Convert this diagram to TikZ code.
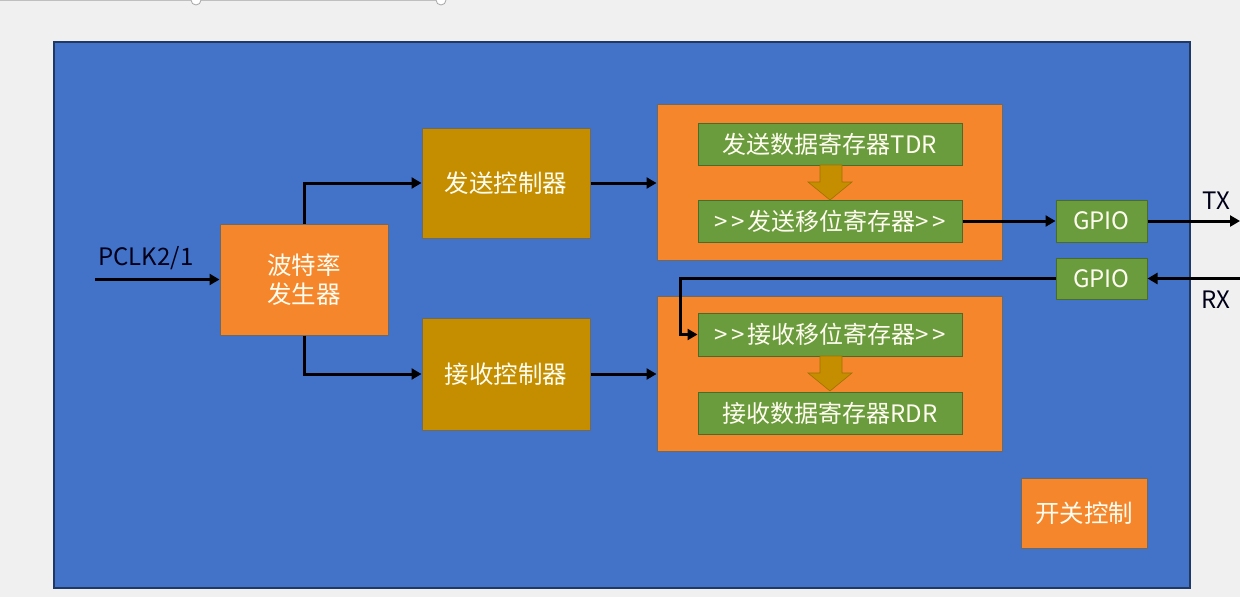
\documentclass[tikz,border=0pt]{standalone}
\usepackage{fontspec}
\setmainfont{Noto Sans CJK SC}
\usetikzlibrary{arrows.meta}
\definecolor{bgc}{HTML}{F0F0F0}
\definecolor{bluec}{HTML}{4373C9}
\definecolor{navyc}{HTML}{1F3864}
\definecolor{orangec}{HTML}{F5862C}
\definecolor{goldc}{HTML}{C48E00}
\definecolor{greenc}{HTML}{6A9B3C}
\definecolor{edgec}{HTML}{6E6A60}
\definecolor{txtc}{HTML}{FFFDF0}
\newcommand{\shiftmark}{>\kern4pt>}
\tikzset{
  box/.style={draw=edgec, line width=1pt, inner sep=0pt, align=center, text=txtc,
    font=\fontsize{24.5}{29}\selectfont},
  obox/.style={box, fill=orangec},
  gbox/.style={box, fill=goldc},
  grbox/.style={box, fill=greenc, draw=greenc!70!black, font=\fontsize{24}{28}\selectfont},
  conn/.style={line width=3pt, -{Triangle[length=10pt,width=11pt]}},
  blk/.style={fill=goldc, draw=goldc!80!black, line width=0.6pt},
  lab/.style={font=\fontsize{24}{28}\selectfont, text=black!90!blue}
}
\begin{document}
\begin{tikzpicture}[x=1pt,y=-1pt]
\useasboundingbox (0,0) rectangle (1240,597);
\fill[bgc] (0,0) rectangle (1240,597);
% screenshot slider remnant
\draw[black!25, line width=2pt] (0,0) -- (441,0);
\draw[black!35, fill=white, line width=0.8pt] (196,0) circle (5);
\draw[black!35, fill=white, line width=0.8pt] (441,0) circle (5);
% main panel
\node[draw=navyc, fill=bluec, line width=1.5pt, minimum width=1136, minimum height=546, inner sep=0pt] (panel) at (622,315) {};
% blocks
\node[obox, minimum width=168, minimum height=111] (baud) at (304,279.5) {波特率\\发生器};
\node[gbox, minimum width=168, minimum height=110] (txc) at (506,183) {发送控制器};
\node[gbox, minimum width=168, minimum height=112] (rxc) at (506,374) {接收控制器};
\node[obox, minimum width=345, minimum height=156] (txbox) at (829.5,182) {};
\node[obox, minimum width=345, minimum height=155] (rxbox) at (829.5,373.5) {};
\node[grbox, minimum width=264, minimum height=42] (tdr) at (830,144) {发送数据寄存器TDR};
\node[grbox, minimum width=264, minimum height=42] (tsr) at (830,221) {\shiftmark\kern2pt 发送移位寄存器\shiftmark};
\node[grbox, minimum width=264, minimum height=43] (rsr) at (830,334.5) {\shiftmark\kern2pt 接收移位寄存器\shiftmark};
\node[grbox, minimum width=264, minimum height=42] (rdr) at (830,413) {接收数据寄存器RDR};
\node[grbox, minimum width=91, minimum height=42] (gpio1) at (1101.5,221) {GPIO};
\node[grbox, minimum width=91, minimum height=41] (gpio2) at (1101.5,278.5) {GPIO};
\node[obox, minimum width=126, minimum height=70] (sw) at (1084,513) {开关控制};
% block arrows
\fill[blk] (820,165) -- (842,165) -- (842,182) -- (852,182) -- (830,200) -- (808,182) -- (820,182) -- cycle;
\fill[blk] (820,356) -- (842,356) -- (842,373) -- (852,373) -- (830,391) -- (808,373) -- (820,373) -- cycle;
% labels
\node[lab] (pclk) at (146,258) {PCLK2/1};
\node[lab] (tx) at (1216,201) {TX};
\node[lab] (rx) at (1216,300) {RX};
% connectors
\coordinate (pin) at (95,279.5);
\coordinate (txend) at (1240,221);
\coordinate (rxstart) at (1240,278.5);
\coordinate (bend) at (680,278.5);
\draw[conn] (pin) -- (baud.west);
\draw[conn] (baud.north) |- (txc.west);
\draw[conn] (baud.south) |- (rxc.west);
\draw[conn] (txc.east) -- (txc.east -| txbox.west);
\draw[conn] (rxc.east) -- (rxc.east -| rxbox.west);
\draw[conn] (tsr.east) -- (gpio1.west);
\draw[conn] (gpio1.east) -- (txend);
\draw[conn] (rxstart) -- (gpio2.east);
\draw[conn] (gpio2.west) -- (bend) |- (rsr.west);
\end{tikzpicture}
\end{document}
